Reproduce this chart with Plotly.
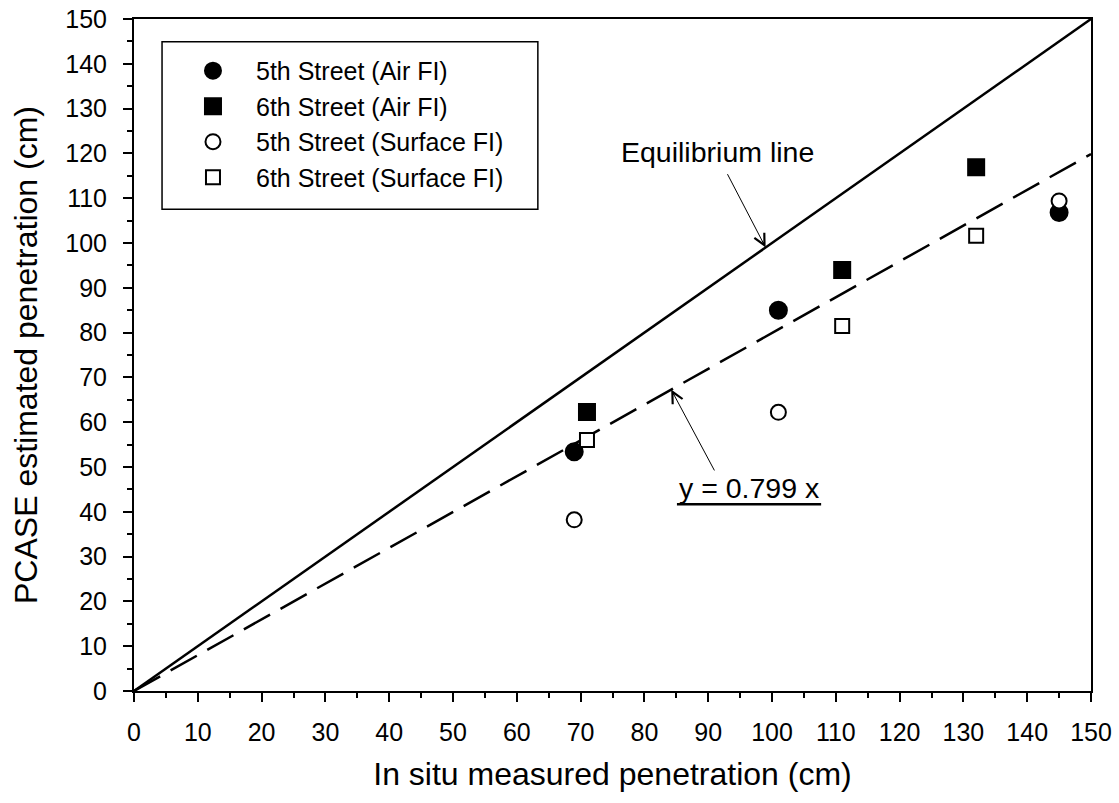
import plotly.graph_objects as go

# Measured vs. PCASE-estimated frost penetration (cm)
x_5th = [69, 101, 145]
y_5th_air = [53.4, 85.0, 106.8]
y_5th_surface = [38.2, 62.2, 109.4]

x_6th = [71, 111, 132]
y_6th_air = [62.3, 94.0, 116.9]
y_6th_surface = [56.0, 81.5, 101.6]

slope = 0.799
line_x = [0, 150]

FONT = "Arial, Liberation Sans, sans-serif"

fig = go.Figure()

# reference lines
fig.add_trace(go.Scatter(x=line_x, y=line_x, mode="lines",
                         line=dict(color="black", width=2.5),
                         showlegend=False, hoverinfo="skip"))
fig.add_trace(go.Scatter(x=line_x, y=[slope * v for v in line_x], mode="lines",
                         line=dict(color="black", width=2.5, dash="30px,12px"),
                         showlegend=False, hoverinfo="skip"))

series = [
    ("5th Street (Air FI)", x_5th, y_5th_air, "circle", "black", 17),
    ("6th Street (Air FI)", x_6th, y_6th_air, "square", "black", 16),
    ("5th Street (Surface FI)", x_5th, y_5th_surface, "circle", "white", 15),
    ("6th Street (Surface FI)", x_6th, y_6th_surface, "square", "white", 14),
]
for i, (name, xs, ys, sym, fill, size) in enumerate(series):
    fig.add_trace(go.Scatter(
        x=xs, y=ys, mode="markers", name=name,
        marker=dict(symbol=sym, size=size, color=fill,
                    line=dict(color="black", width=2)),
    ))

axis_common = dict(
    range=[0, 150], dtick=10, tick0=0,
    showgrid=False, zeroline=False, automargin=False,
    showline=True, linecolor="black", linewidth=2, mirror=True,
    ticks="outside", ticklen=9, tickwidth=2, tickcolor="black",
    minor=dict(ticks="outside", ticklen=5, tickwidth=2, tickcolor="black", dtick=5),
    tickfont=dict(family=FONT, size=25, color="black"),
)

fig.update_xaxes(**axis_common, ticklabelstandoff=9,
                 title=dict(text="In situ measured penetration (cm)",
                            font=dict(family=FONT, size=32, color="black"),
                            standoff=18))
fig.update_yaxes(**axis_common, ticklabelstandoff=11,
                 title=dict(text="PCASE estimated penetration (cm)",
                            font=dict(family=FONT, size=32, color="black"),
                            standoff=18))

# annotations with arrows
fig.add_annotation(x=91.5, y=120.3, text="Equilibrium line", showarrow=False,
                   font=dict(family=FONT, size=28.5, color="black"))
fig.add_annotation(x=99, y=99, ax=92.9, ay=115.7, axref="x", ayref="y",
                   text="", showarrow=True, arrowhead=5, arrowsize=2.2,
                   arrowwidth=1, arrowcolor="black")
fig.add_annotation(x=96.4, y=45.3, text="y = 0.799 x", showarrow=False,
                   font=dict(family=FONT, size=28.5, color="black"))
fig.add_shape(type="line", xref="x", yref="y", x0=85.1, x1=107.7, y0=41.7, y1=41.7,
              line=dict(color="black", width=2.5))
fig.add_annotation(x=84.2, y=slope * 84.2, ax=91.1, ay=48.9, axref="x", ayref="y",
                   text="", showarrow=True, arrowhead=5, arrowsize=2.2,
                   arrowwidth=1, arrowcolor="black")

# legend frame
fig.add_shape(type="rect", xref="paper", yref="paper",
              x0=0.0293, x1=0.422, y0=0.717, y1=0.966,
              line=dict(color="black", width=1.5), fillcolor="rgba(0,0,0,0)")

fig.update_layout(
    width=1119, height=803,
    margin=dict(l=134, r=28, t=19, b=112),
    plot_bgcolor="white", paper_bgcolor="white",
    legend=dict(x=0.0376, y=0.957, xanchor="left", yanchor="top",
                bgcolor="rgba(0,0,0,0)", borderwidth=0,
                font=dict(family=FONT, size=25, color="black"),
                tracegroupgap=0, itemwidth=76),
    font=dict(family=FONT, color="black"),
)

fig.write_html("out.html")
